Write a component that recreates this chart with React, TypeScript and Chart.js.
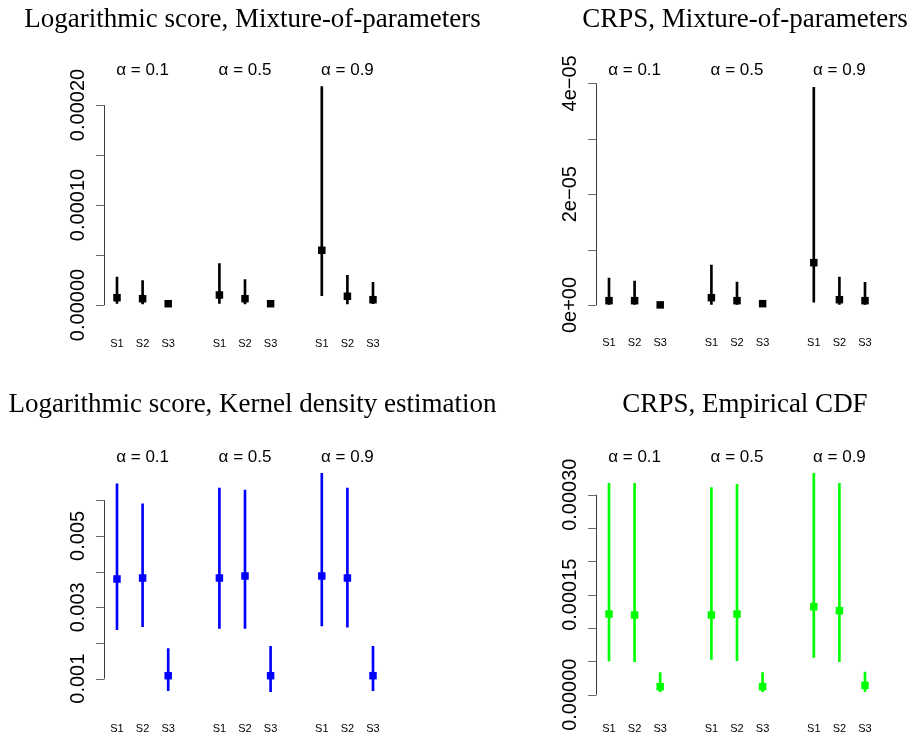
import React, { useEffect, useRef } from "react";
import { Chart, registerables } from "chart.js";

Chart.register(...registerables);

// ---------- shared labels ----------
const seriesNames = ["S1", "S2", "S3"];
const alphaLabels = ["\u03b1 = 0.1", "\u03b1 = 0.5", "\u03b1 = 0.9"];

// Values are ordered: α=0.1 (S1,S2,S3), α=0.5 (S1,S2,S3), α=0.9 (S1,S2,S3)

// ---------- Panel 1: Logarithmic score, Mixture-of-parameters ----------
const logMixMid = [7.3e-6, 6.3e-6, 1.3e-6, 10.0e-6, 6.3e-6, 1.3e-6, 54.7e-6, 8.7e-6, 5.3e-6];
const logMixLow = [1.7e-6, 1.0e-6, 0.5e-6, 1.7e-6, 1.0e-6, 0.5e-6, 9.3e-6, 1.0e-6, 1.3e-6];
const logMixHigh = [28.0e-6, 24.3e-6, 2.2e-6, 41.3e-6, 25.3e-6, 2.2e-6, 218.3e-6, 29.7e-6, 22.7e-6];
const logMixTicks = [0, 5e-5, 1e-4, 1.5e-4, 2e-4];
const logMixTickLabels = ["0.00000", "", "0.00010", "", "0.00020"];

// ---------- Panel 2: CRPS, Mixture-of-parameters ----------
const crpsMixMid = [0.78e-6, 0.78e-6, 0.02e-6, 1.32e-6, 0.78e-6, 0.24e-6, 7.64e-6, 0.96e-6, 0.78e-6];
const crpsMixLow = [0.1e-6, 0.1e-6, 0.0, 0.1e-6, 0.1e-6, 0.05e-6, 0.49e-6, 0.1e-6, 0.1e-6];
const crpsMixHigh = [4.87e-6, 4.33e-6, 0.1e-6, 7.22e-6, 4.15e-6, 0.4e-6, 39.3e-6, 5.05e-6, 4.1e-6];
const crpsMixTicks = [0, 1e-5, 2e-5, 3e-5, 4e-5];
const crpsMixTickLabels = ["0e+00", "", "2e\u221205", "", "4e\u221205"];

// ---------- Panel 3: Logarithmic score, Kernel density estimation ----------
const kdeMid = [0.003793, 0.00382, 0.001084, 0.00382, 0.003877, 0.001084, 0.003877, 0.00382, 0.001084];
const kdeLow = [0.002373, 0.002457, 0.000664, 0.00241, 0.00241, 0.000636, 0.002476, 0.00244, 0.000664];
const kdeHigh = [0.00646, 0.0059, 0.00184, 0.00634, 0.00628, 0.00191, 0.00675, 0.00634, 0.00191];
const kdeTicks = [0.001, 0.002, 0.003, 0.004, 0.005, 0.006];
const kdeTickLabels = ["0.001", "", "0.003", "", "0.005", ""];

// ---------- Panel 4: CRPS, Empirical CDF ----------
const ecdfMid = [0.000121, 0.0001195, 0.000012, 0.0001195, 0.000121, 0.000012, 0.000132, 0.000126, 0.000014];
const ecdfLow = [0.0000505, 0.0000495, 0.0000045, 0.000053, 0.000051, 0.0000045, 0.000056, 0.0000495, 0.0000045];
const ecdfHigh = [0.000317, 0.000317, 0.000033, 0.0003105, 0.0003155, 0.000033, 0.000332, 0.000317, 0.000034];
const ecdfTicks = [0, 5e-5, 1e-4, 1.5e-4, 2e-4, 2.5e-4, 3e-4];
const ecdfTickLabels = ["0.00000", "", "", "0.00015", "", "", "0.00030"];

const SANS = '"Liberation Sans", Arial, Helvetica, sans-serif';
const SERIF = '"Liberation Serif", "Times New Roman", serif';

// Build slot arrays with an empty slot between the alpha groups
function slots<T>(vals: T[], gap: T): T[] {
  const out: T[] = [];
  for (let g = 0; g < alphaLabels.length; g++) {
    for (let s = 0; s < seriesNames.length; s++) out.push(vals[g * seriesNames.length + s]);
    if (g < alphaLabels.length - 1) out.push(gap);
  }
  return out;
}

type PanelProps = {
  top: number;
  pad: { left: number; right: number; top: number; bottom: number };
  title: string;
  titleX: number;
  titleY: number;
  alphaY: number;
  sY: number;
  color: string;
  mid: number[];
  low: number[];
  high: number[];
  ticks: number[];
  tickLabels: string[];
  yMin: number;
  yMax: number;
};

const W = 913;
const H = 368;

function Panel(p: PanelProps) {
  const ref = useRef<HTMLCanvasElement | null>(null);
  useEffect(() => {
    const canvas = ref.current;
    if (!canvas) return;
    const labels = slots(seriesNames.concat(seriesNames, seriesNames), "");
    const midSlots = slots<number | null>(p.mid, null);
    const rangeSlots = slots<[number, number] | null>(
      p.low.map((l, i) => [l, p.high[i]] as [number, number]),
      null
    );

    const overlay = {
      id: "rOverlay",
      afterDraw(chart: any) {
        const ctx = chart.ctx as CanvasRenderingContext2D;
        const xs = chart.scales.x;
        const ys = chart.scales.y;
        const area = chart.chartArea;
        ctx.save();
        ctx.fillStyle = "#000";

        // title
        ctx.font = `27px ${SERIF}`;
        ctx.textAlign = "center";
        ctx.textBaseline = "alphabetic";
        ctx.fillText(p.title, p.titleX, p.titleY);

        // alpha labels (centered above the middle series of each group)
        ctx.font = `17px ${SANS}`;
        alphaLabels.forEach((a, g) => {
          const idx = g * (seriesNames.length + 1) + 1;
          ctx.fillText(a, xs.getPixelForValue(idx), p.alphaY);
        });

        // series labels
        ctx.font = `11px ${SANS}`;
        labels.forEach((l, i) => {
          if (!l) return;
          ctx.fillText(l, xs.getPixelForValue(i), p.sY);
        });

        // y axis (R style: line between first and last tick)
        const ax = Math.round(area.left) + 0.5;
        const y0 = ys.getPixelForValue(p.ticks[0]);
        const y1 = ys.getPixelForValue(p.ticks[p.ticks.length - 1]);
        ctx.strokeStyle = "#3a3a3a";
        ctx.lineWidth = 1;
        ctx.beginPath();
        ctx.moveTo(ax, y0);
        ctx.lineTo(ax, y1);
        ctx.stroke();
        ctx.strokeStyle = "#6a6a6a";
        p.ticks.forEach((t) => {
          const ty = Math.round(ys.getPixelForValue(t)) + 0.5;
          ctx.beginPath();
          ctx.moveTo(ax, ty);
          ctx.lineTo(ax - 8.5, ty);
          ctx.stroke();
        });
        ctx.font = `20px ${SANS}`;
        ctx.fillStyle = "#000";
        p.ticks.forEach((t, i) => {
          const lab = p.tickLabels[i];
          if (!lab) return;
          const ty = ys.getPixelForValue(t);
          ctx.save();
          ctx.translate(area.left - 20.5, ty);
          ctx.rotate(-Math.PI / 2);
          ctx.textAlign = "center";
          ctx.textBaseline = "alphabetic";
          ctx.fillText(lab, 0, 0);
          ctx.restore();
        });
        ctx.restore();
      },
    };

    const chart = new Chart(canvas, {
      type: "bar",
      data: {
        labels,
        datasets: [
          {
            type: "line",
            label: "median",
            data: midSlots,
            showLine: false,
            pointStyle: "rect",
            pointRadius: 5.3,
            pointBorderWidth: 0,
            pointBackgroundColor: p.color,
            pointBorderColor: p.color,
            backgroundColor: p.color,
            borderColor: p.color,
            order: 0,
          } as any,
          {
            type: "bar",
            label: "range",
            data: rangeSlots as any,
            backgroundColor: p.color,
            borderWidth: 0,
            barThickness: 2,
            order: 1,
          } as any,
        ],
      },
      options: {
        animation: false,
        responsive: false,
        maintainAspectRatio: false,
        devicePixelRatio: 1,
        events: [],
        layout: { padding: p.pad },
        plugins: {
          legend: { display: false },
          title: { display: false },
          tooltip: { enabled: false },
        },
        scales: {
          x: { type: "category", offset: true, display: false, grid: { display: false } },
          y: { type: "linear", min: p.yMin, max: p.yMax, display: false },
        },
      },
      plugins: [overlay],
    } as any);
    return () => chart.destroy();
  }, []);
  return (
    <canvas
      ref={ref}
      width={W}
      height={H}
      style={{ position: "absolute", left: 0, top: p.top, width: W, height: H }}
    />
  );
}

export default function App() {
  // chart-area horizontal extents (canvas spans the full page width)
  const padL = { left: 104.2, right: W - 385.8 };
  const padR = { left: 596.2, right: W - 877.8 };
  return (
    <div style={{ position: "absolute", left: 0, top: 0, width: 913, height: 736, background: "#fff", overflow: "hidden" }}>
      <Panel
        top={0}
        pad={{ ...padL, top: 80, bottom: 48 }}
        title="Logarithmic score, Mixture-of-parameters"
        titleX={252.5} titleY={27} alphaY={75} sY={347}
        color="#000000"
        mid={logMixMid} low={logMixLow} high={logMixHigh}
        ticks={logMixTicks} tickLabels={logMixTickLabels}
        yMin={-15e-6} yMax={225e-6}
      />
      <Panel
        top={0}
        pad={{ ...padR, top: 80, bottom: 48 }}
        title="CRPS, Mixture-of-parameters"
        titleX={745} titleY={27} alphaY={75} sY={346}
        color="#000000"
        mid={crpsMixMid} low={crpsMixLow} high={crpsMixHigh}
        ticks={crpsMixTicks} tickLabels={crpsMixTickLabels}
        yMin={-2.708e-6} yMax={40.61e-6}
      />
      <Panel
        top={368}
        pad={{ ...padL, top: 90, bottom: 28 }}
        title="Logarithmic score, Kernel density estimation"
        titleX={252.5} titleY={44} alphaY={93.5} sY={363.5}
        color="#0000ff"
        mid={kdeMid} low={kdeLow} high={kdeHigh}
        ticks={kdeTicks} tickLabels={kdeTickLabels}
        yMin={0.000179} yMax={0.007182}
      />
      <Panel
        top={368}
        pad={{ ...padR, top: 90, bottom: 23 }}
        title="CRPS, Empirical CDF"
        titleX={745} titleY={44} alphaY={93.5} sY={363.5}
        color="#00ff00"
        mid={ecdfMid} low={ecdfLow} high={ecdfHigh}
        ticks={ecdfTicks} tickLabels={ecdfTickLabels}
        yMin={-0.00002745} yMax={0.00035505}
      />
    </div>
  );
}
